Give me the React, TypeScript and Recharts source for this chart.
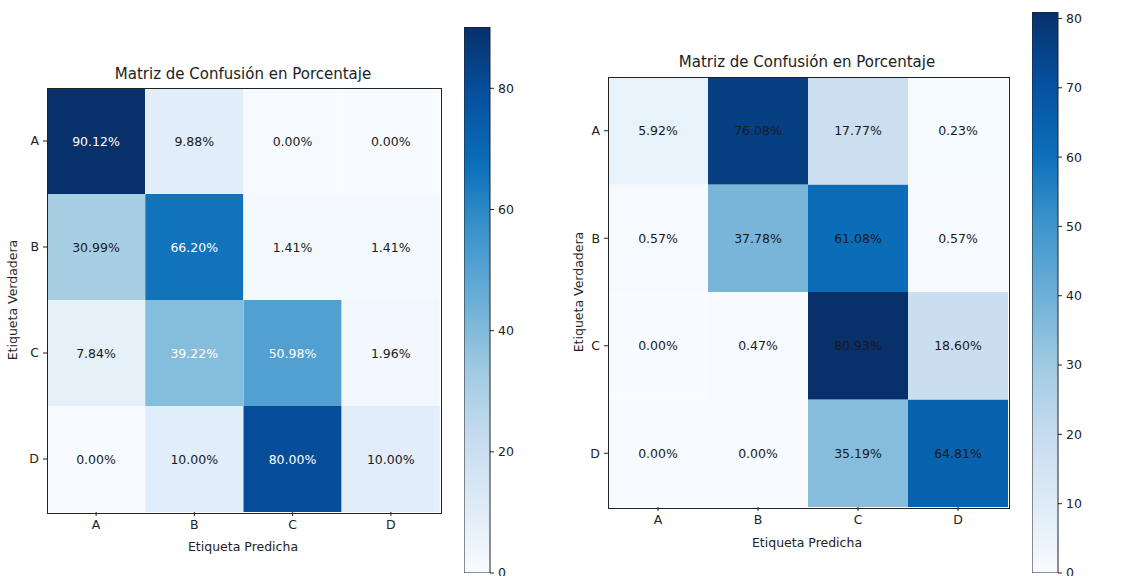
import React from 'react';
import { BarChart, Bar, XAxis, YAxis, Cell, LabelList } from 'recharts';

// Class labels shared by both matrices
const CATEGORIES = ['A', 'B', 'C', 'D'];

// Rows = true label, columns = predicted label (percent)
const LEFT_MATRIX = [
  [90.12, 9.88, 0.0, 0.0],
  [30.99, 66.2, 1.41, 1.41],
  [7.84, 39.22, 50.98, 1.96],
  [0.0, 10.0, 80.0, 10.0],
];
const RIGHT_MATRIX = [
  [5.92, 76.08, 17.77, 0.23],
  [0.57, 37.78, 61.08, 0.57],
  [0.0, 0.47, 80.93, 18.6],
  [0.0, 0.0, 35.19, 64.81],
];

const LEFT_CB_TICKS = [0, 20, 40, 60, 80];
const RIGHT_CB_TICKS = [0, 10, 20, 30, 40, 50, 60, 70, 80];

const TITLE = 'Matriz de Confusión en Porcentaje';
const X_LABEL = 'Etiqueta Predicha';
const Y_LABEL = 'Etiqueta Verdadera';

const FONT = '"DejaVu Sans", Verdana, sans-serif';
const INK = '#222';

// Sequential blue palette, light to dark
const BLUES = ['#f7fbff', '#deebf7', '#c6dbef', '#9ecae1', '#6baed6', '#3b94cc', '#0b6eb8', '#06509e', '#08306b'];

function hexToRgb(h: string) {
  const n = parseInt(h.slice(1), 16);
  return [(n >> 16) & 255, (n >> 8) & 255, n & 255];
}

function blues(t: number) {
  const c = Math.max(0, Math.min(1, t));
  const pos = c * (BLUES.length - 1);
  const i = Math.min(BLUES.length - 2, Math.floor(pos));
  const f = pos - i;
  const a = hexToRgb(BLUES[i]);
  const b = hexToRgb(BLUES[i + 1]);
  const rgb = a.map((v, k) => Math.round(v + (b[k] - v) * f));
  return `rgb(${rgb[0]},${rgb[1]},${rgb[2]})`;
}

const matrixMax = (m: number[][]) => Math.max(...m.flat());

type Margin = { top: number; right: number; bottom: number; left: number };

type HeatProps = {
  matrix: number[][];
  left: number;
  top: number;
  width: number;
  height: number;
  margin: Margin;
  whiteAbove: number;
};

const Y_AXIS_W = 20;
const X_AXIS_H = 30;

function Heatmap({ matrix, left, top, width, height, margin, whiteAbove }: HeatProps) {
  const vmax = matrixMax(matrix);
  // one stacked unit segment per (predicted column, true row)
  const table = CATEGORIES.map((p) => {
    const row: Record<string, any> = { pred: p };
    CATEGORIES.forEach((t) => (row[t] = 1));
    return row;
  });
  const rowsBottomUp = CATEGORIES.map((t, i) => ({ t, i })).reverse();
  const yTicks = [0.5, 1.5, 2.5, 3.5];
  const yTickLabel = (v: number) => CATEGORIES[CATEGORIES.length - 1 - Math.floor(v)];
  const tickStyle = { fontSize: 12.5, fill: INK, fontFamily: FONT };

  // frame around the plotting area
  const frame = {
    left: margin.left + Y_AXIS_W,
    top: margin.top,
    width: width - margin.left - margin.right - Y_AXIS_W,
    height: height - margin.top - margin.bottom - X_AXIS_H,
  };

  return (
    <div style={{ position: 'absolute', left, top, width, height }}>
      <BarChart width={width} height={height} data={table} margin={margin} barCategoryGap={0} barGap={0}>
        <XAxis
          dataKey="pred"
          axisLine={false}
          tick={tickStyle}
          tickSize={4}
          tickMargin={4}
          height={X_AXIS_H}
          tickLine={{ stroke: INK }}
        />
        <YAxis
          type="number"
          domain={[0, 4]}
          ticks={yTicks}
          interval={0}
          tickFormatter={yTickLabel}
          axisLine={false}
          tick={tickStyle}
          tickSize={4}
          tickMargin={4}
          width={Y_AXIS_W}
          tickLine={{ stroke: INK }}
          allowDataOverflow
        />
        {rowsBottomUp.map(({ t, i }) => (
          <Bar key={t} dataKey={t} stackId="m" isAnimationActive={false}>
            {CATEGORIES.map((p, j) => (
              <Cell key={p} fill={blues(matrix[i][j] / vmax)} />
            ))}
            <LabelList
              dataKey={t}
              content={(props: any) => {
                const { x, y, width: w, height: h, index } = props;
                const v = matrix[i][index];
                return (
                  <text
                    x={Number(x) + Number(w) / 2}
                    y={Number(y) + Number(h) / 2}
                    textAnchor="middle"
                    dominantBaseline="central"
                    fontSize={12.5}
                    fontFamily={FONT}
                    fill={v > whiteAbove ? '#ffffff' : '#1a1a1a'}
                  >
                    {v.toFixed(2)}%
                  </text>
                );
              }}
            />
          </Bar>
        ))}
      </BarChart>
      <div
        style={{
          position: 'absolute',
          left: frame.left - 0.5,
          top: frame.top - 0.5,
          width: frame.width,
          height: frame.height,
          border: `1px solid ${INK}`,
          pointerEvents: 'none',
        }}
      />
    </div>
  );
}

type CbProps = { vmax: number; ticks: number[]; left: number; top: number; marginTop: number; id: string };

function Colorbar({ vmax, ticks, left, top, marginTop, id }: CbProps) {
  const data = [{ name: 'escala', v: vmax }];
  return (
    <div style={{ position: 'absolute', left, top }}>
      <BarChart
        width={62}
        height={576}
        data={data}
        margin={{ top: marginTop, right: 0, bottom: 3, left: 0 }}
        barCategoryGap={0}
        style={{ overflow: 'visible' }}
      >
        <defs>
          <linearGradient id={id} x1="0" y1="1" x2="0" y2="0">
            {BLUES.map((c, k) => (
              <stop key={k} offset={`${(k / (BLUES.length - 1)) * 100}%`} stopColor={c} />
            ))}
          </linearGradient>
        </defs>
        <XAxis dataKey="name" hide />
        <YAxis
          orientation="right"
          type="number"
          domain={[0, vmax]}
          ticks={ticks}
          interval={0}
          allowDataOverflow
          width={36}
          axisLine={false}
          tickSize={4}
          tickMargin={4}
          tickLine={{ stroke: INK }}
          tick={{ fontSize: 12.5, fill: INK, fontFamily: FONT }}
        />
        <Bar dataKey="v" fill={`url(#${id})`} stroke={INK} strokeWidth={1} isAnimationActive={false} />
      </BarChart>
    </div>
  );
}

const textBase: React.CSSProperties = {
  position: 'absolute',
  fontFamily: FONT,
  color: INK,
  whiteSpace: 'nowrap',
  lineHeight: 1,
};

function Centered({ x, y, size, rotate, children }: { x: number; y: number; size: number; rotate?: boolean; children: React.ReactNode }) {
  return (
    <div
      style={{
        ...textBase,
        left: x,
        top: y,
        fontSize: size,
        transform: `translate(-50%, -50%)${rotate ? ' rotate(-90deg)' : ''}`,
      }}
    >
      {children}
    </div>
  );
}

export default function App() {
  return (
    <div style={{ position: 'absolute', left: 0, top: 0, width: 1127, height: 576, background: '#fff', overflow: 'hidden' }}>
      <Heatmap
        matrix={LEFT_MATRIX}
        left={0}
        top={0}
        width={460}
        height={576}
        margin={{ top: 88, right: 20, bottom: 34, left: 27 }}
        whiteAbove={36}
      />
      <Colorbar vmax={matrixMax(LEFT_MATRIX)} ticks={LEFT_CB_TICKS} left={464} top={0} marginTop={27} id="cbLeft" />
      <Centered x={243} y={74} size={15}>{TITLE}</Centered>
      <Centered x={243} y={547} size={12.5}>{X_LABEL}</Centered>
      <Centered x={13} y={300} size={12.5} rotate>{Y_LABEL}</Centered>

      <Heatmap
        matrix={RIGHT_MATRIX}
        left={560}
        top={0}
        width={470}
        height={576}
        margin={{ top: 77, right: 22, bottom: 39, left: 28 }}
        whiteAbove={Infinity}
      />
      <Colorbar vmax={matrixMax(RIGHT_MATRIX)} ticks={RIGHT_CB_TICKS} left={1032} top={0} marginTop={12} id="cbRight" />
      <Centered x={807} y={62} size={15}>{TITLE}</Centered>
      <Centered x={807} y={543} size={12.5}>{X_LABEL}</Centered>
      <Centered x={579} y={292} size={12.5} rotate>{Y_LABEL}</Centered>
    </div>
  );
}
